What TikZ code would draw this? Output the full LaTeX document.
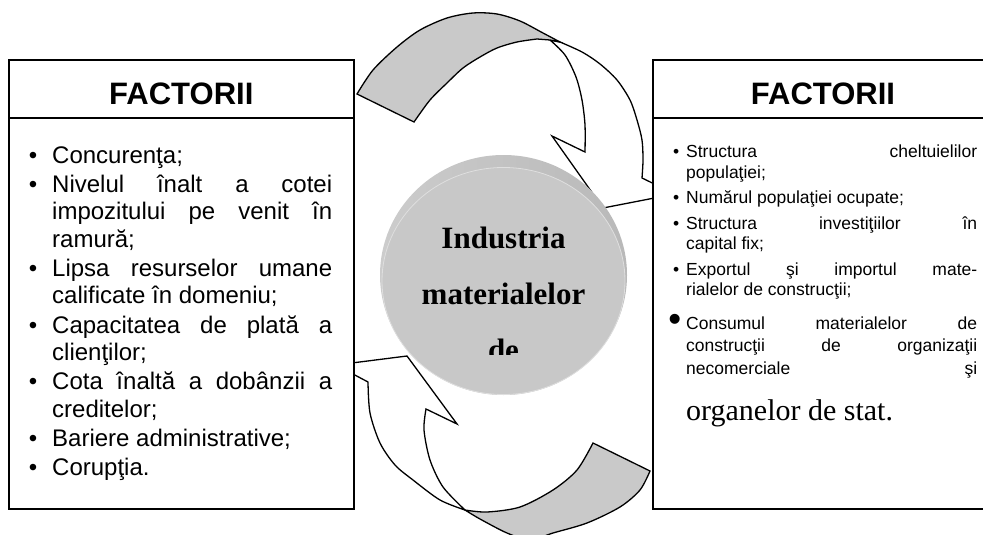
\documentclass[tikz,border=0pt]{standalone}
\usepackage{fontspec}
\usepackage{graphicx}
\setmainfont{Liberation Sans}
\newfontfamily\timesfont{Liberation Serif}
\hyphenpenalty=10000
\exhyphenpenalty=10000
\tolerance=10000
\hbadness=10000

\newcommand{\bigdot}{\raisebox{-2pt}{\scalebox{2.1}{\textbullet}}\hspace{-2pt}}
\newenvironment{factlist}[3]{%
  \begin{list}{\textbullet}{\setlength{\leftmargin}{#1}\setlength{\labelsep}{#2}%
    \setlength{\labelwidth}{14pt}\setlength{\itemsep}{#3}\setlength{\parsep}{0pt}%
    \setlength{\topsep}{0pt}\setlength{\partopsep}{0pt}}}%
  {\end{list}}

\tikzset{
  boxline/.style={draw, line width=1.6pt},
  factbox/.style={boxline, fill=white, rectangle, inner sep=0pt, anchor=north west, minimum height=449pt},
  head/.style={font=\bfseries\fontsize{31}{36}\selectfont, inner sep=0pt},
  listtext/.style={anchor=north west, inner sep=0pt, align=justify},
  disctext/.style={anchor=north, align=center, inner sep=0pt, font=\timesfont\bfseries\fontsize{31}{56}\selectfont},
  band/.style={line width=1.3pt, line join=miter},
}

\begin{document}
\begin{tikzpicture}[x=1pt, y=-1pt]
    \useasboundingbox (0,0) rectangle (983,535);
    % upper curved arrow (white back side, then grey tail)
    \draw[band, fill=white] plot[smooth] coordinates {(550,40) (565,55) (576,77) (582,100) (585,125) (585,152)}
        -- (552,136) -- (603,208) -- (675,194)
        -- plot[smooth] coordinates {(642,178) (643,160) (642,140) (637,120) (630,100) (617,80) (600,64) (582,52) (560,42)} -- cycle;
    \draw[band, fill=gray!42] plot[smooth] coordinates {(357,94) (373,70) (397,47) (420,30) (447,18) (473,13) (497,14) (520,21) (543,33) (560,42)}
        -- (550,40) -- plot[smooth] coordinates {(537,39) (517,42) (497,48) (480,57) (463,68) (447,83) (430,100) (414,122)} -- cycle;

    % lower curved arrow
    \draw[band, fill=white] plot[smooth] coordinates {(465,510) (443,487) (430,460) (424,430) (426,409)}
        -- (457,424) -- (407,356) -- (336,365)
        -- plot[smooth] coordinates {(368,382) (370,413) (380,443) (395,465) (413,480) (440,500) (465,510)} -- cycle;
    \draw[band, fill=gray!42] plot[smooth] coordinates {(465,510) (487,512) (520,507) (553,490) (577,470) (593,443)}
        -- plot[smooth] coordinates {(650,471) (640,490) (620,507) (587,523) (553,533) (530,540) (507,533) (480,519) (465,510)} -- cycle;

    % factor boxes
    \node[factbox, minimum width=345pt] (leftbox) at (8,59) {};
    \node[factbox, minimum width=370pt] (rightbox) at (652,59) {};
    \draw[boxline] ([yshift=-59pt]leftbox.north west) -- ([yshift=-59pt]leftbox.north east);
    \draw[boxline] ([yshift=-59pt]rightbox.north west) -- ([yshift=-59pt]rightbox.north east);
    \node[head] (lefthead) at ([yshift=-35pt]leftbox.north) {FACTORII};
    \node[head] (righthead) at ([xshift=171pt, yshift=-35pt]rightbox.north west) {FACTORII};

    \node[listtext, text width=300pt, font=\fontsize{24}{27.5}\selectfont] (leftlist) at (32,135.5) {%
        \begin{factlist}{20pt}{14.8pt}{1.6pt}
        \item Concurenţa;
        \item Nivelul înalt a cotei\linebreak impozitului pe venit în\linebreak ramură;
        \item Lipsa resurselor umane\linebreak calificate în domeniu;
        \item Capacitatea de plată a\linebreak clienţilor;
        \item Cota înaltă a dobânzii a\linebreak creditelor;
        \item Bariere administrative;
        \item Corupţia.
        \end{factlist}};

    \node[listtext, text width=307pt, font=\fontsize{17.5}{20.5}\selectfont] (rightlist) at (670,137.2) {%
        \begin{factlist}{16pt}{7pt}{5pt}
        \item Structura cheltuielilor\linebreak populaţiei;
        \item Numărul populaţiei ocupate;
        \item Structura investiţiilor în\linebreak capital fix;
        \item Exportul şi importul mate-\linebreak rialelor de construcţii;
        \vspace{6pt}
        \item[\bigdot] {\fontsize{17.5}{22.5}\selectfont Consumul materialelor de\linebreak construcţii de organizaţii\linebreak necomerciale\hfill şi\par}
            {\timesfont\fontsize{30}{46}\selectfont organelor de stat.\par}
        \end{factlist}};

    % central disc
    \shade[left color=gray!40, middle color=gray!72, right color=gray!55] (503.5,275) ellipse [x radius=123.5, y radius=120];
    \fill[gray!43] (503.5,281) ellipse [x radius=121.5, y radius=113.5];
    \draw[white!75!gray, line width=0.8pt] (503.5,281) ellipse [x radius=121.5, y radius=113.5];
    \begin{scope}
        \clip (380,150) rectangle (630,354);
        \node[disctext] (disc) at (503.5,226.8) {Industria\\materialelor\\de};
    \end{scope}
\end{tikzpicture}
\end{document}
